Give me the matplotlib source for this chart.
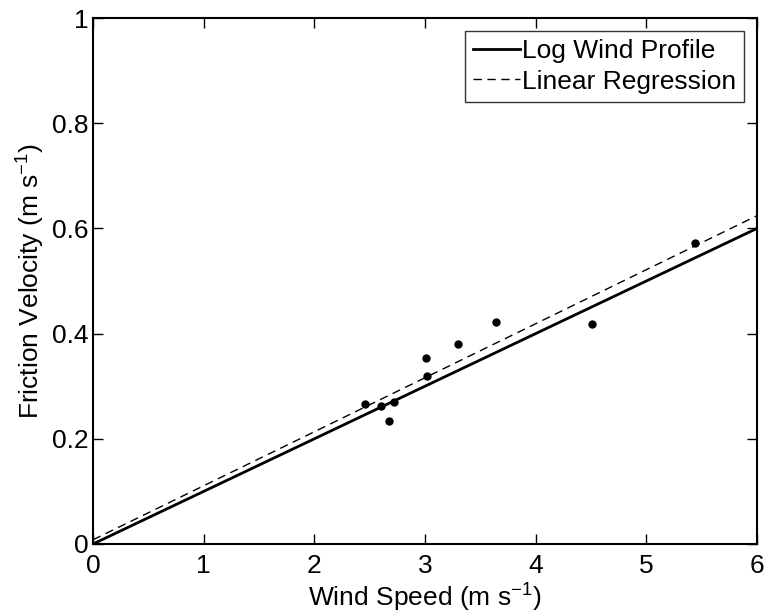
import numpy as np
import matplotlib
matplotlib.use("Agg")
import matplotlib.pyplot as plt

plt.rcParams['font.family'] = ['Liberation Sans', 'DejaVu Sans']
plt.rcParams['mathtext.fontset'] = 'custom'
plt.rcParams['mathtext.rm'] = 'Liberation Sans'
plt.rcParams['mathtext.it'] = 'Liberation Sans'

# Observed wind speed vs friction velocity
wind_speed = [2.46, 2.60, 2.72, 2.67, 3.01, 3.02, 3.30, 3.64, 4.51, 5.44]
friction_velocity = [0.266, 0.262, 0.270, 0.233, 0.354, 0.319, 0.380, 0.422, 0.419, 0.572]

# Fitted relations u* = a*U + b
log_profile_slope, log_profile_intercept = 0.100, 0.0
regression_slope, regression_intercept = 0.1027, 0.008

x_ticks = [0, 1, 2, 3, 4, 5, 6]
y_ticks = [0, 0.2, 0.4, 0.6, 0.8, 1]
y_tick_labels = ['0', '0.2', '0.4', '0.6', '0.8', '1']

FS = 19

fig = plt.figure(figsize=(7.67, 6.13), dpi=100)
ax = fig.add_axes([0.1213, 0.1126, 0.8657, 0.858])

xs = np.array([0, 6])
ax.plot(xs, log_profile_slope * xs + log_profile_intercept, 'k-', lw=2.0,
        label='Log Wind Profile')
ax.plot(xs, regression_slope * xs + regression_intercept, 'k--', lw=1.0,
        dashes=(6, 4), label='Linear Regression')
ax.plot(wind_speed, friction_velocity, 'k.', ms=10)

ax.set_xlim(0, 6)
ax.set_ylim(0, 1)
ax.set_xticks(x_ticks)
ax.set_xticklabels([str(t) for t in x_ticks])
ax.set_yticks(y_ticks)
ax.set_yticklabels(y_tick_labels)
ax.tick_params(direction='in', top=True, right=True, length=7, width=1,
               labelsize=FS)
ax.tick_params(axis='x', pad=7)
ax.tick_params(axis='y', pad=3)
for s in ax.spines.values():
    s.set_linewidth(1.5)

ax.set_xlabel('Wind Speed (m s$^{-1}$)', fontsize=FS, labelpad=3)
ax.set_ylabel('Friction Velocity (m s$^{-1}$)', fontsize=FS, labelpad=4)

leg = ax.legend(loc='upper right', fontsize=FS, frameon=True, fancybox=False,
                edgecolor='black', handlelength=1.8, handletextpad=0.05,
                borderpad=0.3, labelspacing=0.25, borderaxespad=0.5)
leg.get_frame().set_linewidth(1.0)

fig.savefig('out.png', dpi=100)
